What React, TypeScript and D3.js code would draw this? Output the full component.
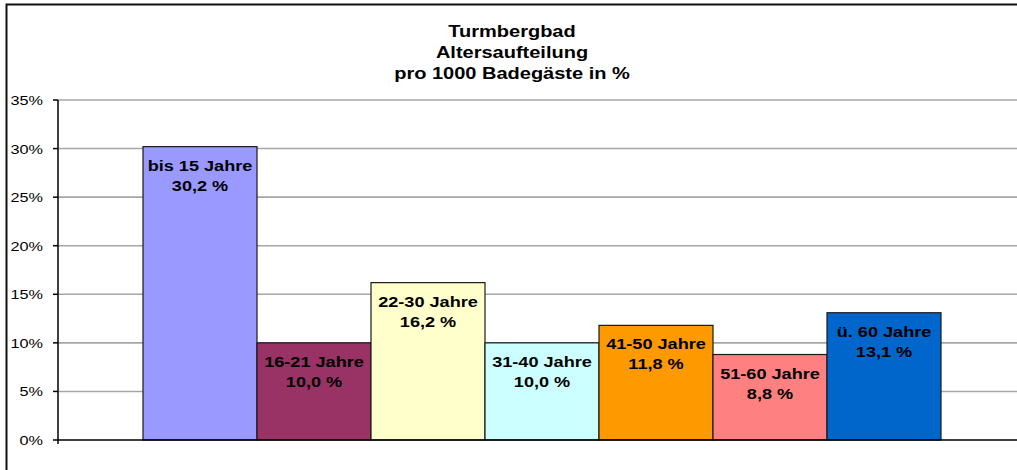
import React from "react";
import * as d3 from "d3";

const titleLines = ["Turmbergbad", "Altersaufteilung", "pro 1000 Badegäste in %"];
const categories = ["bis 15 Jahre", "16-21 Jahre", "22-30 Jahre", "31-40 Jahre", "41-50 Jahre", "51-60 Jahre", "ü. 60 Jahre"];
const values = [30.2, 10.0, 16.2, 10.0, 11.8, 8.8, 13.1];
const barColors = ["#9999FF", "#993366", "#FFFFCC", "#CCFFFF", "#FF9900", "#FF8080", "#0066CC"];
const yTicks = [0, 5, 10, 15, 20, 25, 30, 35];

const W = 1017;
const H = 470;
const plot = { left: 58, right: 1026, top: 100, bottom: 440 };
const barsLeft = 143;
const barsRight = 941;
const FONT = "'Liberation Sans', Arial, sans-serif";
const SX = 1.25;

function T(props: { x: number; y: number; anchor?: string; size: number; bold?: boolean; children: React.ReactNode }) {
  return (
    <text
      transform={`translate(${props.x},${props.y}) scale(${SX},1)`}
      textAnchor={props.anchor || "middle"}
      fontFamily={FONT}
      fontWeight={props.bold ? "bold" : "normal"}
      fontSize={props.size}
      fill="#000"
    >
      {props.children}
    </text>
  );
}

export default function App() {
  const y = d3.scaleLinear().domain([0, 35]).range([plot.bottom, plot.top]);
  const x = d3.scaleBand<string>().domain(categories).range([barsLeft, barsRight]).padding(0);
  const fmt = (v: number) => d3.format(".1f")(v).replace(".", ",") + " %";

  return (
    <svg width={W} height={H} style={{ position: "absolute", left: 0, top: 0, background: "#fff" }}>
      <rect x={0} y={0} width={W} height={H} fill="#fff" />
      {/* chart frame */}
      <rect x={6.5} y={4.5} width={W + 20} height={H + 20} fill="none" stroke="#111" strokeWidth={2} />

      {/* title */}
      {titleLines.map((t, i) => (
        <T key={i} x={512} y={37 + i * 21} size={16} bold>{t}</T>
      ))}

      {/* gridlines */}
      {yTicks.filter((t) => t > 0).map((t) => (
        <line key={t} x1={plot.left} x2={plot.right} y1={y(t)} y2={y(t)} stroke="#a6a6a6" strokeWidth={1.6} />
      ))}

      {/* bars */}
      {categories.map((c, i) => (
        <rect
          key={c}
          x={x(c)!}
          y={y(values[i])}
          width={x.bandwidth()}
          height={y(0) - y(values[i])}
          fill={barColors[i]}
          stroke="#1a1a1a"
          strokeWidth={1.2}
        />
      ))}

      {/* bar labels */}
      {categories.map((c, i) => (
        <g key={c}>
          <T x={x(c)! + x.bandwidth() / 2} y={y(values[i]) + 24} size={14.5} bold>{c}</T>
          <T x={x(c)! + x.bandwidth() / 2} y={y(values[i]) + 44} size={14.5} bold>{fmt(values[i])}</T>
        </g>
      ))}

      {/* axes */}
      <line x1={plot.left} x2={plot.right} y1={y(0)} y2={y(0)} stroke="#000" strokeWidth={1.5} />
      <line x1={plot.left} x2={plot.left} y1={plot.top} y2={y(0) + 4} stroke="#000" strokeWidth={1.5} />
      {yTicks.map((t) => (
        <g key={t}>
          <line x1={plot.left - 5} x2={plot.left} y1={y(t)} y2={y(t)} stroke="#000" strokeWidth={1.5} />
          <T x={43} y={y(t) + 5} anchor="end" size={13}>{t}%</T>
        </g>
      ))}
    </svg>
  );
}
